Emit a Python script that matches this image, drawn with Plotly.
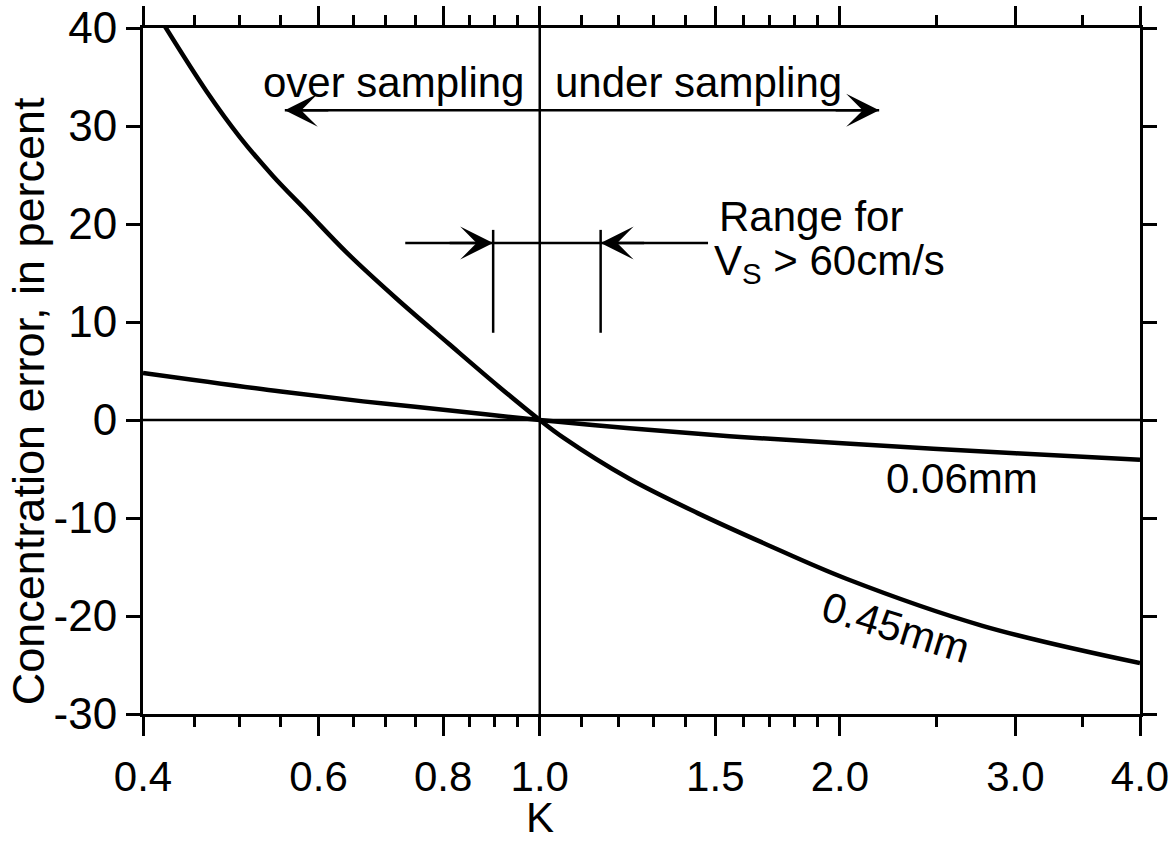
import math
import plotly.graph_objects as go

# ---- data ----
k_045 = [0.42, 0.4635, 0.50, 0.54, 0.584, 0.64, 0.72, 0.81, 0.91, 1.0, 1.056, 1.23, 1.44, 1.68, 2.03, 2.78, 4.0]
err_045 = [40.3, 33.5, 28.9, 24.9, 21.3, 17.1, 12.3, 7.8, 3.4, 0.0, -1.8, -6.0, -9.5, -12.6, -16.2, -21.0, -24.8]

k_006 = [0.4, 0.55, 0.665, 0.75, 1.0, 1.23, 1.55, 2.03, 3.0, 4.0]
err_006 = [4.8, 2.9, 1.9, 1.35, 0.0, -0.85, -1.65, -2.4, -3.4, -4.05]

x_tickvals = [0.4, 0.6, 0.8, 1.0, 1.5, 2.0, 3.0, 4.0]
x_ticktext = ["0.4", "0.6", "0.8", "1.0", "1.5", "2.0", "3.0", "4.0"]
x_minorvals = [0.45, 0.5, 0.55, 0.65, 0.7, 0.75, 0.85, 0.9, 0.95,
               1.1, 1.2, 1.3, 1.4, 1.6, 1.7, 1.8, 1.9, 2.5, 3.5]
y_tickvals = [-30, -20, -10, 0, 10, 20, 30, 40]
y_ticktext = ["-30", "-20", "-10", "0", "10", "20", "30", "40"]

# guide lines (K = 1 line, zero line, sampling arrow, range bracket)
ref_k = [1.0, 1.0]
ref_y = [-30, 40]
zero_k = [0.4, 4.0]
zero_y = [0, 0]
sampling_k = [0.555, 2.19]
sampling_y = 31.6
range_k = [0.733, 1.475]
range_y = 18.06
range_bounds = [0.898, 1.151]
range_bar = [8.9, 19.4]

FONT = "Liberation Sans, Arial, Helvetica, sans-serif"
BLACK = "black"

fig = go.Figure()


def guide(xs, ys):
    fig.add_trace(go.Scatter(x=xs, y=ys, mode="lines",
                             line=dict(color=BLACK, width=2.5),
                             showlegend=False, hoverinfo="skip"))


guide(ref_k, ref_y)
guide(zero_k, zero_y)
guide(sampling_k, [sampling_y, sampling_y])
guide(range_k, [range_y, range_y])
for kb in range_bounds:
    guide([kb, kb], range_bar)

fig.add_trace(go.Scatter(x=k_045, y=err_045, mode="lines", name="0.45mm",
                         line=dict(color=BLACK, width=4.5, shape="spline", smoothing=1.0),
                         showlegend=False))
fig.add_trace(go.Scatter(x=k_006, y=err_006, mode="lines", name="0.06mm",
                         line=dict(color=BLACK, width=4.5, shape="spline", smoothing=1.0),
                         showlegend=False))

annotations = []


def arrow(tip_k, y, ax):
    annotations.append(dict(
        x=math.log10(tip_k), y=y, xref="x", yref="y", text="",
        showarrow=True, arrowhead=3, arrowsize=2.2, arrowwidth=2.5,
        arrowcolor=BLACK, ax=ax, ay=0))


arrow(sampling_k[0], sampling_y, 45)
arrow(sampling_k[1], sampling_y, -45)
arrow(range_bounds[0], range_y, -45)
arrow(range_bounds[1], range_y, 45)


def label(text, k, y, xanchor="left", yanchor="top", size=42, angle=0):
    annotations.append(dict(
        x=math.log10(k), y=y, xref="x", yref="y", text=text, showarrow=False,
        xanchor=xanchor, yanchor=yanchor, textangle=angle,
        font=dict(family=FONT, size=size, color=BLACK)))


label("over sampling", 0.969, 37.0, xanchor="right")
label("under sampling", 1.031, 37.0, xanchor="left")
label("Range for", 1.506, 23.4, xanchor="left")
label("V<sub>S</sub> &gt; 60cm/s", 1.49, 18.9, xanchor="left")
label("0.06mm", 2.65, -3.4, xanchor="center")
label("0.45mm", 2.279, -21.2, xanchor="center", yanchor="middle", angle=17)

# axis titles
annotations.append(dict(x=0, y=-0.1516, xref="x", yref="paper", text="K", showarrow=False,
                        xanchor="center", yanchor="middle",
                        font=dict(family=FONT, size=42, color=BLACK)))
annotations.append(dict(x=-0.1153, y=0.456, xref="paper", yref="paper",
                        text="Concentration error, in percent", showarrow=False,
                        textangle=-90, xanchor="center", yanchor="middle",
                        font=dict(family=FONT, size=45, color=BLACK)))

fig.update_layout(
    width=1172, height=855,
    margin=dict(l=143, r=32, t=28, b=141, autoexpand=False),
    paper_bgcolor="white", plot_bgcolor="white",
    font=dict(family=FONT, color=BLACK),
    annotations=annotations,
    showlegend=False,
)

fig.update_xaxes(
    type="log", range=[math.log10(0.4), math.log10(4.0)],
    tickmode="array", tickvals=x_tickvals, ticktext=x_ticktext,
    ticks="outside", ticklen=19, tickwidth=3, tickcolor=BLACK,
    showline=True, linewidth=3, linecolor=BLACK, mirror="ticks",
    showgrid=False, zeroline=False, automargin=False,
    tickfont=dict(family=FONT, size=42, color=BLACK),
    ticklabelstandoff=5,
    minor=dict(tickmode="array", tickvals=x_minorvals, ticks="outside",
               ticklen=10, tickwidth=2.5, tickcolor=BLACK, showgrid=False),
)
fig.update_yaxes(
    range=[-30, 40],
    tickmode="array", tickvals=y_tickvals, ticktext=y_ticktext,
    ticks="outside", ticklen=14, tickwidth=3, tickcolor=BLACK,
    showline=True, linewidth=3, linecolor=BLACK, mirror="ticks",
    showgrid=False, zeroline=False, automargin=False,
    tickfont=dict(family=FONT, size=44, color=BLACK),
    ticklabelstandoff=0,
)

fig.write_html("out.html")
